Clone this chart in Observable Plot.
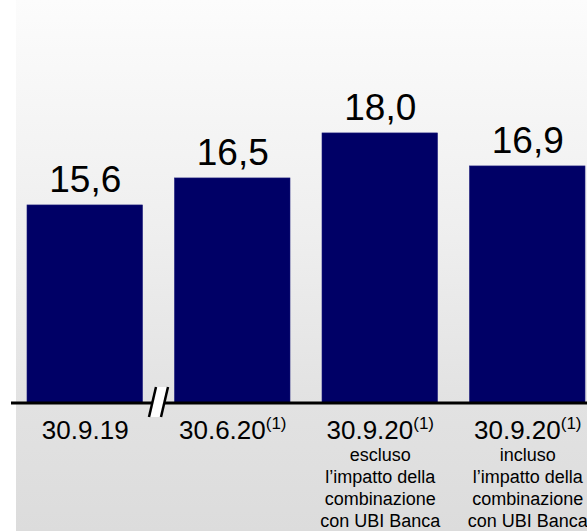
<!DOCTYPE html>
<html>
<head>
<meta charset="utf-8">
<script src="https://cdn.jsdelivr.net/npm/d3@7"></script>
<script src="https://cdn.jsdelivr.net/npm/@observablehq/plot@0.6"></script>
<style>
  html, body { margin: 0; padding: 0; background: #ffffff; }
  #wrap { position: relative; width: 587px; height: 531px; overflow: hidden; }
  #bg { position: absolute; left: 16px; top: 0; right: 0; bottom: 0;
        background: linear-gradient(to bottom, #fcfcfc 0%, #eeeeee 45%, #e2e2e2 76%, #dcdcdc 100%); }
  #chart { position: absolute; left: 0; top: 0; }
  #chart svg { background: transparent; overflow: visible; }
</style>
</head>
<body>
<div id="wrap"><div id="bg"></div><div id="chart"></div></div>
<script>
// ---- data ----
const categories = ["30.9.19", "30.6.20", "30.9.20 escluso", "30.9.20 incluso"];
const values = [15.6, 16.5, 18.0, 16.9];
const mainLabels = ["30.9.19", "30.6.20", "30.9.20", "30.9.20"];
const notes = ["", "(1)", "(1)", "(1)"];
const subLabels = [
  "",
  "",
  "escluso\nl’impatto della\ncombinazione\ncon UBI Banca",
  "incluso\nl’impatto della\ncombinazione\ncon UBI Banca"
];
const yDomain = [9, 22.43]; // broken axis: baseline value and top

const data = categories.map((c, i) => ({
  cat: c,
  value: values[i],
  valueLabel: values[i].toFixed(1).replace(".", ","),
  main: notes[i] ? mainLabels[i] + "|" + notes[i] : mainLabels[i],
  sub: subLabels[i]
}));

const plot = Plot.plot({
  width: 587,
  height: 531,
  marginTop: 0,
  marginBottom: 128,
  marginLeft: 11,
  marginRight: 0,
  style: { fontFamily: "'Liberation Sans', Arial, sans-serif", background: "transparent", color: "#000" },
  x: { domain: categories, axis: null, paddingInner: 0.217, paddingOuter: 0.061, align: 0.889, round: false },
  y: { domain: yDomain, axis: null },
  marks: [
    Plot.barY(data, { x: "cat", y1: () => yDomain[0], y2: "value", fill: "#000066", stroke: "#1a1a7a", strokeWidth: 0.6 }),
    Plot.ruleY([yDomain[0]], { stroke: "#000", strokeWidth: 3, dy: -0.5 }),
    Plot.text(data, { x: "cat", y: "value", text: "valueLabel", lineAnchor: "bottom", dy: -13, fontSize: 37, fill: "#000" }),
    Plot.text(data, { x: "cat", frameAnchor: "bottom", text: "main", lineAnchor: "bottom", dy: 35, fontSize: 26, fill: "#000" }),
    Plot.text(data, { x: "cat", frameAnchor: "bottom", text: "sub", lineAnchor: "bottom", dy: 123, fontSize: 18, lineHeight: 1.21, fill: "#000" })
  ]
});

document.getElementById("chart").appendChild(plot);

// superscript notes
plot.querySelectorAll("text").forEach(t => {
  if (t.textContent.includes("|")) {
    const [a, b] = t.textContent.split("|");
    t.textContent = a;
    const ts = document.createElementNS("http://www.w3.org/2000/svg", "tspan");
    ts.setAttribute("font-size", "17");
    ts.setAttribute("dy", "-9.5");
    ts.textContent = b;
    t.appendChild(ts);
  }
});

// axis break mark between first and second bar, positioned from the scales
const xs = plot.scale("x"), ys = plot.scale("y");
const bw = xs.bandwidth;
const cx = (xs.apply(categories[0]) + bw + xs.apply(categories[1])) / 2;
const cy = ys.apply(yDomain[0]) - 1;
const svg = d3.select(plot);
const g = svg.append("g").attr("transform", `translate(${cx},${cy})`);
g.append("polygon")
  .attr("points", "-9.5,15 -2.5,-15 9.5,-15 2.5,15")
  .attr("fill", "#ffffff");
g.append("line").attr("x1", -9.5).attr("y1", 15).attr("x2", -2.5).attr("y2", -15)
  .attr("stroke", "#000").attr("stroke-width", 2.5);
g.append("line").attr("x1", 2.5).attr("y1", 15).attr("x2", 9.5).attr("y2", -15)
  .attr("stroke", "#000").attr("stroke-width", 2.5);
</script>
</body>
</html>
